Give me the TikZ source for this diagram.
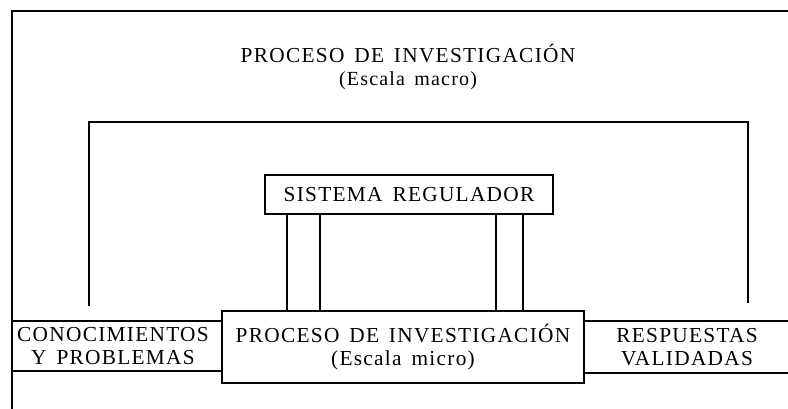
\documentclass[tikz,border=0pt]{standalone}
\usepackage{fontspec}
\setmainfont{Liberation Serif}[LetterSpace=6,WordSpace=1.5]
\tikzset{
  rotulo/.style={font=\fontsize{16}{17.3}\selectfont, align=center, inner sep=0pt},
  caja/.style={draw, line width=0.9pt, rotulo},
  linea/.style={line width=0.9pt}
}
\begin{document}
\begin{tikzpicture}[x=0.75pt,y=0.75pt,yscale=-1,xscale=1]
\useasboundingbox (0,0) rectangle (788,409);

%Outer frame
\draw [linea] (790,11) -- (12,11) -- (12,412) ;

% Text Node
\node [rotulo] (titulo) at (408,67) {PROCESO DE INVESTIGACIÓN\\{\fontsize{15}{17.3}\selectfont(Escala macro)}};

%Inner bracket
\coordinate (izq) at (89,306);
\coordinate (der) at (748,303);
\draw [linea] (izq) -- (89,122) -- (748,122) -- (der) ;

%Boxes
\node [caja, minimum width=216pt, minimum height=29.25pt] (sistema) at (409,194.5) {SISTEMA REGULADOR};
\node [caja, minimum width=271.5pt, minimum height=54pt] (micro) at (403,347) {PROCESO DE INVESTIGACIÓN\\(Escala micro)};
\node [caja, minimum width=157.5pt, minimum height=37.5pt] (conoc) at (117,346) {};
\node [rotulo] (conoctxt) at (113,346) {CONOCIMIENTOS\\Y PROBLEMAS};
\node [caja, minimum width=154.5pt, minimum height=39pt] (resp) at (687,347) {RESPUESTAS\\VALIDADAS};

%Links between regulator and micro process
\foreach \xx in {287,320,496,523}
  \draw [linea] (\xx,0 |- sistema.south) -- (\xx,0 |- micro.north) ;

\end{tikzpicture}
\end{document}
